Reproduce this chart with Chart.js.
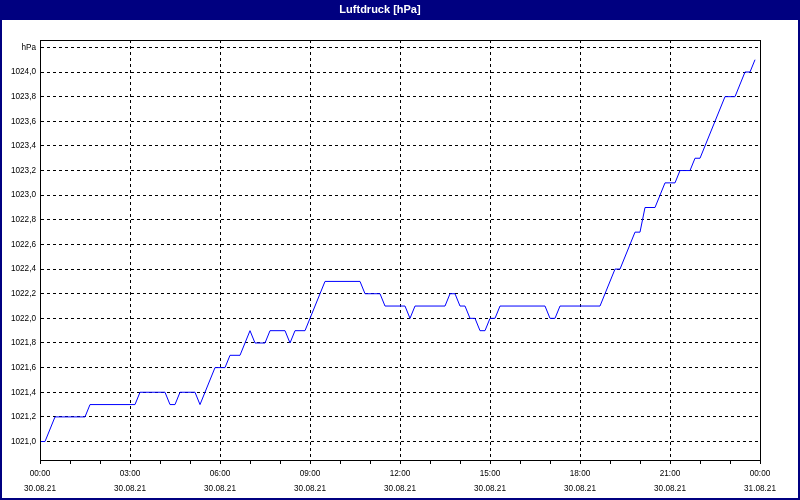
<!DOCTYPE html>
<html>
<head>
<meta charset="utf-8">
<title>Luftdruck [hPa]</title>
<script src="https://cdn.jsdelivr.net/npm/chart.js@4.4.1/dist/chart.umd.min.js"></script>
<style>
    html, body { margin: 0; padding: 0; background: #fff; }
    canvas { display: block; }
</style>
</head>
<body>
<canvas id="pressureChart" width="800" height="500"></canvas>
<script>
// ==================== Luftdruck 30.08.21 ====================

// Messzeitpunkte (Knickpunkte der Kurve) und Luftdruck in hPa
const times = [
    '00:00', '00:10', '00:30', '01:30', '01:40', '03:10', '03:20', '04:10', '04:20', '04:30',
    '04:40', '05:10', '05:20', '05:50', '06:10', '06:20', '06:40', '07:00', '07:10', '07:30',
    '07:40', '08:10', '08:20', '08:30', '08:50', '09:30', '10:40', '10:50', '11:20', '11:30',
    '12:10', '12:20', '12:30', '13:30', '13:40', '13:50', '14:00', '14:10', '14:20', '14:30',
    '14:40', '14:50', '15:00', '15:10', '15:20', '16:50', '17:00', '17:10', '17:20', '18:40',
    '19:10', '19:20', '19:50', '20:00', '20:10', '20:30', '20:50', '21:10', '21:20', '21:40',
    '21:50', '22:00', '22:50', '23:10', '23:30', '23:40', '23:50'
];
const pressure = [
    1021.0, 1021.0, 1021.2, 1021.2, 1021.3, 1021.3, 1021.4, 1021.4, 1021.3, 1021.3,
    1021.4, 1021.4, 1021.3, 1021.6, 1021.6, 1021.7, 1021.7, 1021.9, 1021.8, 1021.8,
    1021.9, 1021.9, 1021.8, 1021.9, 1021.9, 1022.3, 1022.3, 1022.2, 1022.2, 1022.1,
    1022.1, 1022.0, 1022.1, 1022.1, 1022.2, 1022.2, 1022.1, 1022.1, 1022.0, 1022.0,
    1021.9, 1021.9, 1022.0, 1022.0, 1022.1, 1022.1, 1022.0, 1022.0, 1022.1, 1022.1,
    1022.4, 1022.4, 1022.7, 1022.7, 1022.9, 1022.9, 1023.1, 1023.1, 1023.2, 1023.2,
    1023.3, 1023.3, 1023.8, 1023.8, 1024.0, 1024.0, 1024.1
];

// Achsen
const yTicks = [
    1021.0, 1021.2, 1021.4, 1021.6, 1021.8, 1022.0, 1022.2, 1022.4, 1022.6,
    1022.8, 1023.0, 1023.2, 1023.4, 1023.6, 1023.8, 1024.0, 1024.2
];
const yUnitLabel = 'hPa';
const xTickHours = [0, 1, 2, 3, 4, 5, 6, 7, 8, 9, 10, 11, 12, 13, 14, 15, 16, 17, 18, 19, 20, 21, 22, 23, 24];
const xLabelTimes = ['00:00', '03:00', '06:00', '09:00', '12:00', '15:00', '18:00', '21:00', '00:00'];
const xLabelDates = ['30.08.21', '30.08.21', '30.08.21', '30.08.21', '30.08.21', '30.08.21', '30.08.21', '30.08.21', '31.08.21'];

const NAVY = '#000080';
const labelFont = { family: "'Liberation Sans', Arial, sans-serif", size: 8.2, lineHeight: '15px' };

function toMinutes(t) {
    const [h, m] = t.split(':').map(Number);
    return h * 60 + m;
}

function formatHpa(v) {
    return v.toFixed(1).replace('.', ',');
}

// Hintergrund, Titelleiste, Rahmen
const framePlugin = {
    id: 'frame',
    beforeDraw(chart) {
        const { ctx, width, height } = chart;
        ctx.save();
        ctx.fillStyle = '#ffffff';
        ctx.fillRect(0, 0, width, height);
        ctx.fillStyle = NAVY;
        ctx.fillRect(0, 0, width, 20);
        ctx.restore();
    },
    afterDraw(chart) {
        const { ctx, width, height, chartArea } = chart;
        ctx.save();
        ctx.strokeStyle = '#000';
        ctx.lineWidth = 1;
        ctx.strokeRect(Math.round(chartArea.left) + 0.5, Math.round(chartArea.top) + 0.5,
            Math.round(chartArea.right - chartArea.left), Math.round(chartArea.bottom - chartArea.top));
        ctx.strokeStyle = NAVY;
        ctx.lineWidth = 2;
        ctx.strokeRect(1, 1, width - 2, height - 2);
        ctx.restore();
    }
};

new Chart(document.getElementById('pressureChart'), {
    type: 'line',
    data: {
        datasets: [{
            label: 'Luftdruck',
            data: times.map((t, i) => ({ x: toMinutes(t), y: pressure[i] })),
            borderColor: '#0000ff',
            borderWidth: 1,
            pointRadius: 0,
            tension: 0,
            fill: false
        }]
    },
    options: {
        responsive: false,
        animation: false,
        events: [],
        layout: {
            padding: { top: 0, left: 0, right: 40, bottom: 0 }
        },
        scales: {
            x: {
                type: 'linear',
                min: 0,
                max: 1440,
                afterBuildTicks: scale => {
                    scale.ticks = xTickHours.map(h => ({ value: h * 60 }));
                },
                afterFit: scale => { scale.height = 40; },
                grid: {
                    color: ctx => (ctx.tick && ctx.tick.value % 180 === 0) ? '#000' : 'rgba(0,0,0,0)',
                    tickColor: '#000',
                    tickLength: 4,
                    lineWidth: 1
                },
                border: { display: true, color: '#000', dash: [3, 3] },
                ticks: {
                    autoSkip: false,
                    maxRotation: 0,
                    padding: 2,
                    color: '#000',
                    font: labelFont,
                    callback: value => {
                        if (value % 180 !== 0) return '';
                        const i = value / 180;
                        return [xLabelTimes[i], xLabelDates[i]];
                    }
                }
            },
            y: {
                type: 'linear',
                min: 1020.85,
                max: 1024.26,
                afterBuildTicks: scale => {
                    scale.ticks = yTicks.map(v => ({ value: v }));
                },
                afterFit: scale => { scale.width = 40; },
                grid: {
                    color: '#000',
                    drawTicks: false,
                    lineWidth: 1
                },
                border: { display: true, color: '#000', dash: [3, 3] },
                ticks: {
                    padding: 4,
                    color: '#000',
                    font: labelFont,
                    callback: (value, index) => index === yTicks.length - 1 ? yUnitLabel : formatHpa(value)
                }
            }
        },
        plugins: {
            legend: { display: false },
            tooltip: { enabled: false },
            title: {
                display: true,
                text: 'Luftdruck [hPa]',
                color: '#ffffff',
                font: { family: "'Liberation Sans', Arial, sans-serif", size: 11, weight: 'bold', lineHeight: '12px' },
                padding: { top: 4, bottom: 24 }
            }
        }
    },
    plugins: [framePlugin]
});
</script>
</body>
</html>
